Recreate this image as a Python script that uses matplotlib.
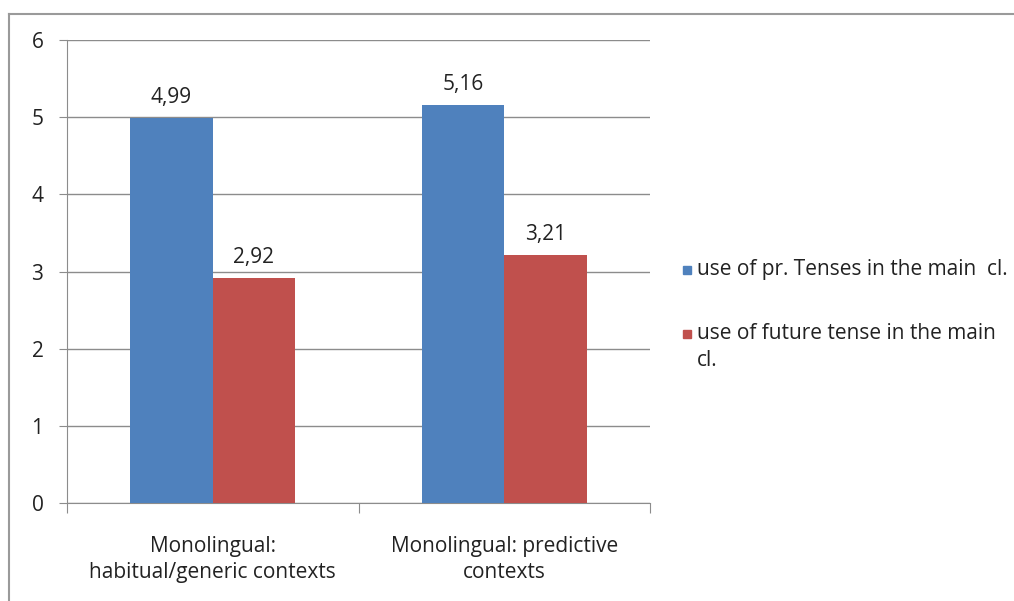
import matplotlib
matplotlib.use('Agg')
import matplotlib.pyplot as plt
import numpy as np
from matplotlib.lines import Line2D
from matplotlib.patches import Rectangle

plt.rcParams['font.family'] = ['Open Sans', 'DejaVu Sans']

categories = ['Monolingual:\nhabitual/generic contexts', 'Monolingual: predictive\ncontexts']
series_names = ['use of pr. Tenses in the main  cl.', 'use of future tense in the main\ncl.']
pres_tense = [4.99, 5.16]
fut_tense = [2.92, 3.21]
value_labels = [['4,99', '5,16'], ['2,92', '3,21']]

BLUE = '#4F81BD'
RED = '#C0504D'
GRID = '#8C8C8C'
TXT = '#222222'
FS = 15

fig = plt.figure(figsize=(10.14, 6.01), dpi=100)
ax = fig.add_axes([67/1014, 1 - 503/601, (650 - 67)/1014, (503 - 40)/601])

x = np.arange(len(categories))
w = 0.283
b1 = ax.bar(x - w/2, pres_tense, w, color=BLUE, zorder=3)
b2 = ax.bar(x + w/2, fut_tense, w, color=RED, zorder=3)

for bars, labs in zip([b1, b2], value_labels):
    for r, t in zip(bars, labs):
        ax.text(r.get_x() + r.get_width()/2, r.get_height() + 0.13, t,
                ha='center', va='bottom', fontsize=FS, color=TXT)

ax.set_xlim(-0.5, 1.5)
ax.set_ylim(0, 6)
ax.set_yticks(range(0, 7))
ax.yaxis.grid(True, color=GRID, linewidth=1)
ax.set_axisbelow(True)

ax.set_xticks([-0.5, 0.5, 1.5])
ax.set_xticklabels([])
ax.set_xticks(x, minor=True)
ax.set_xticklabels(categories, minor=True, fontsize=FS, color=TXT, linespacing=1.3)
ax.tick_params(axis='x', which='major', length=7, color=GRID, direction='out')
ax.tick_params(axis='x', which='minor', length=0, pad=24)
ax.tick_params(axis='y', length=6, color=GRID, labelsize=FS, labelcolor=TXT, pad=11)

for s in ['top', 'right']:
    ax.spines[s].set_visible(False)
for s in ['left', 'bottom']:
    ax.spines[s].set_color(GRID)

# legend drawn by hand so the square sits on the first text line
leg_y = [270, 334]
for name, col, y in zip(series_names, [BLUE, RED], leg_y):
    fig.add_artist(Rectangle((683/1014, 1 - (y + 4)/601), 8/1014, 8/601,
                             color=col, transform=fig.transFigure))
    fig.text(697/1014, 1 - (y - 11)/601, name, fontsize=FS, color=TXT,
             va='top', ha='left', linespacing=1.35)

# outer chart border (partly cropped)
fig.add_artist(Line2D([9/1014, 1], [1 - 14/601, 1 - 14/601], color='#9A9A9A', linewidth=1.5))
fig.add_artist(Line2D([9/1014, 9/1014], [0, 1 - 14/601], color='#9A9A9A', linewidth=1.5))

fig.savefig('out.png', dpi=100)
